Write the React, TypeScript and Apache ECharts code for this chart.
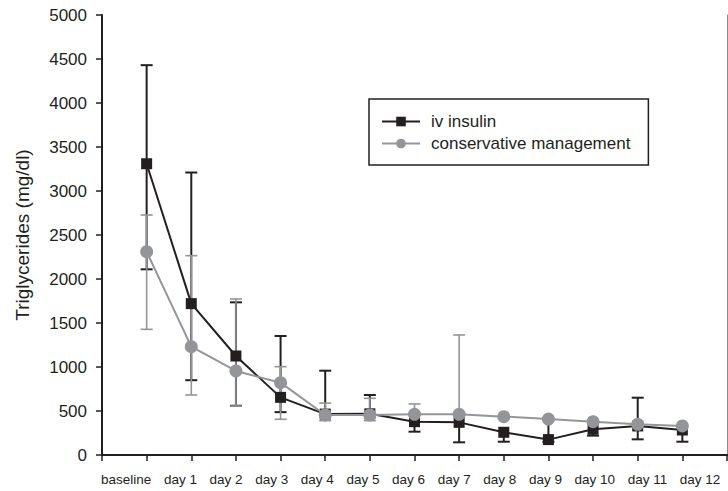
import React, { useEffect, useRef } from "react";
import * as echarts from "echarts";

const categories = ["baseline", "day 1", "day 2", "day 3", "day 4", "day 5", "day 6", "day 7", "day 8", "day 9", "day 10", "day 11", "day 12"];

const insulinMean = [3310, 1720, 1125, 655, 465, 468, 379, 371, 258, 175, 292, 330, 284];
const insulinLow: (number | null)[] = [2110, 850, 560, 487, null, null, 265, 144, 151, 150, 220, 178, 151];
const insulinHigh: (number | null)[] = [4430, 3210, 1735, 1352, 958, 682, 470, 470, null, 400, null, 651, null];

const consMean = [2310, 1231, 955, 822, 455, 455, 462, 462, 436, 409, 379, 349, 330];
const consLow: (number | null)[] = [1428, 682, 557, 406, 390, 390, null, null, null, null, null, null, null];
const consHigh: (number | null)[] = [2727, 2265, 1773, 1004, 590, 644, 580, 1364, null, null, null, null, null];

const yTicks = { min: 0, max: 5000, interval: 500 };

const BLACK = "#231f20";
const GRAY = "#939598";
const FONT = "Liberation Sans, Arial, sans-serif";

function errorSeries(name: string, mean: number[], low: (number | null)[], high: (number | null)[], color: string, width: number) {
  return {
    type: "custom",
    name: name + " error",
    silent: true,
    encode: { x: 0, y: 1 },
    z: 2,
    data: mean.map((m, i) => [i + 1, m, low[i] ?? m, high[i] ?? m]),
    renderItem: (params: any, api: any) => {
      const idx = params.dataIndex;
      const x = api.value(0);
      const pLo = api.coord([x, api.value(2)]);
      const pHi = api.coord([x, api.value(3)]);
      const hw = 6;
      const children: any[] = [
        { type: "line", shape: { x1: pLo[0], y1: pLo[1], x2: pHi[0], y2: pHi[1] }, style: { stroke: color, lineWidth: width } },
      ];
      if (low[idx] != null) {
        children.push({ type: "line", shape: { x1: pLo[0] - hw, y1: pLo[1], x2: pLo[0] + hw, y2: pLo[1] }, style: { stroke: color, lineWidth: width } });
      }
      if (high[idx] != null) {
        children.push({ type: "line", shape: { x1: pHi[0] - hw, y1: pHi[1], x2: pHi[0] + hw, y2: pHi[1] }, style: { stroke: color, lineWidth: width } });
      }
      return { type: "group", children };
    },
  };
}

export default function App() {
  const ref = useRef<HTMLDivElement>(null);
  useEffect(() => {
    document.body.style.margin = "0";
    const chart = echarts.init(ref.current!, null, { renderer: "svg" });
    const axisCats = ["", ...categories, ""];
    const labelLine = categories.map((c) => `{a|${c}}`).join("");
    chart.setOption({
      animation: false,
      backgroundColor: "#ffffff",
      textStyle: { fontFamily: FONT, color: BLACK },
      grid: { left: 102, right: 1, top: 15, bottom: 36 },
      graphic: [
        {
          type: "text",
          left: 101,
          top: 472,
          silent: true,
          style: {
            text: labelLine,
            rich: { a: { padding: [0, 6.3, 0, 6.3], fontSize: 13.5, fontFamily: FONT, fill: BLACK } },
            fontSize: 13.5,
            fontFamily: FONT,
            fill: BLACK,
          },
        },
      ],
      legend: {
        orient: "vertical",
        left: 369,
        top: 99,
        padding: [14, 18, 13, 12],
        itemGap: 5,
        itemWidth: 38,
        itemHeight: 12,
        borderColor: BLACK,
        borderWidth: 1.5,
        data: ["iv insulin", "conservative management"],
        textStyle: { fontSize: 17, color: BLACK, fontFamily: FONT, padding: [0, 0, 0, 6] },
      },
      xAxis: [
        {
          type: "category",
          data: axisCats,
          boundaryGap: false,
          axisLine: { lineStyle: { color: BLACK, width: 2 } },
          axisTick: { show: true, length: 6, interval: 0, lineStyle: { color: BLACK, width: 1.5 } },
          axisLabel: { show: false },
          splitLine: { show: false },
        },
        {
          type: "category",
          data: axisCats,
          boundaryGap: false,
          position: "top",
          axisLine: { lineStyle: { color: BLACK, width: 2 } },
          axisTick: { show: false },
          axisLabel: { show: false },
        },
      ],
      yAxis: [
        {
          type: "value",
          min: yTicks.min,
          max: yTicks.max,
          interval: yTicks.interval,
          name: "Triglycerides (mg/dl)",
          nameLocation: "middle",
          nameGap: 70,
          nameTextStyle: { fontSize: 19, color: BLACK, fontFamily: FONT },
          axisLine: { show: true, lineStyle: { color: BLACK, width: 2 } },
          axisTick: { show: true, length: 6, lineStyle: { color: BLACK, width: 1.5 } },
          axisLabel: { fontSize: 17, color: BLACK, margin: 15, fontFamily: FONT, formatter: (v: number) => String(v) },
          splitLine: { show: false },
        },
        {
          type: "value",
          min: yTicks.min,
          max: yTicks.max,
          interval: yTicks.interval,
          position: "right",
          axisLine: { show: true, lineStyle: { color: "#8a8a8a", width: 1 } },
          axisTick: { show: false },
          axisLabel: { show: false },
          splitLine: { show: false },
        },
      ],
      series: [
        errorSeries("iv insulin", insulinMean, insulinLow, insulinHigh, BLACK, 2),
        errorSeries("conservative management", consMean, consLow, consHigh, GRAY, 1.6),
        {
          name: "iv insulin",
          type: "line",
          z: 3,
          data: [null, ...insulinMean, null],
          symbol: "rect",
          symbolSize: 11,
          itemStyle: { color: BLACK },
          lineStyle: { color: BLACK, width: 2 },
        },
        {
          name: "conservative management",
          type: "line",
          z: 4,
          data: [null, ...consMean, null],
          symbol: "circle",
          symbolSize: 13,
          itemStyle: { color: GRAY },
          lineStyle: { color: GRAY, width: 2 },
        },
      ],
    });
    return () => chart.dispose();
  }, []);
  return <div ref={ref} style={{ width: 728, height: 491 }} />;
}
